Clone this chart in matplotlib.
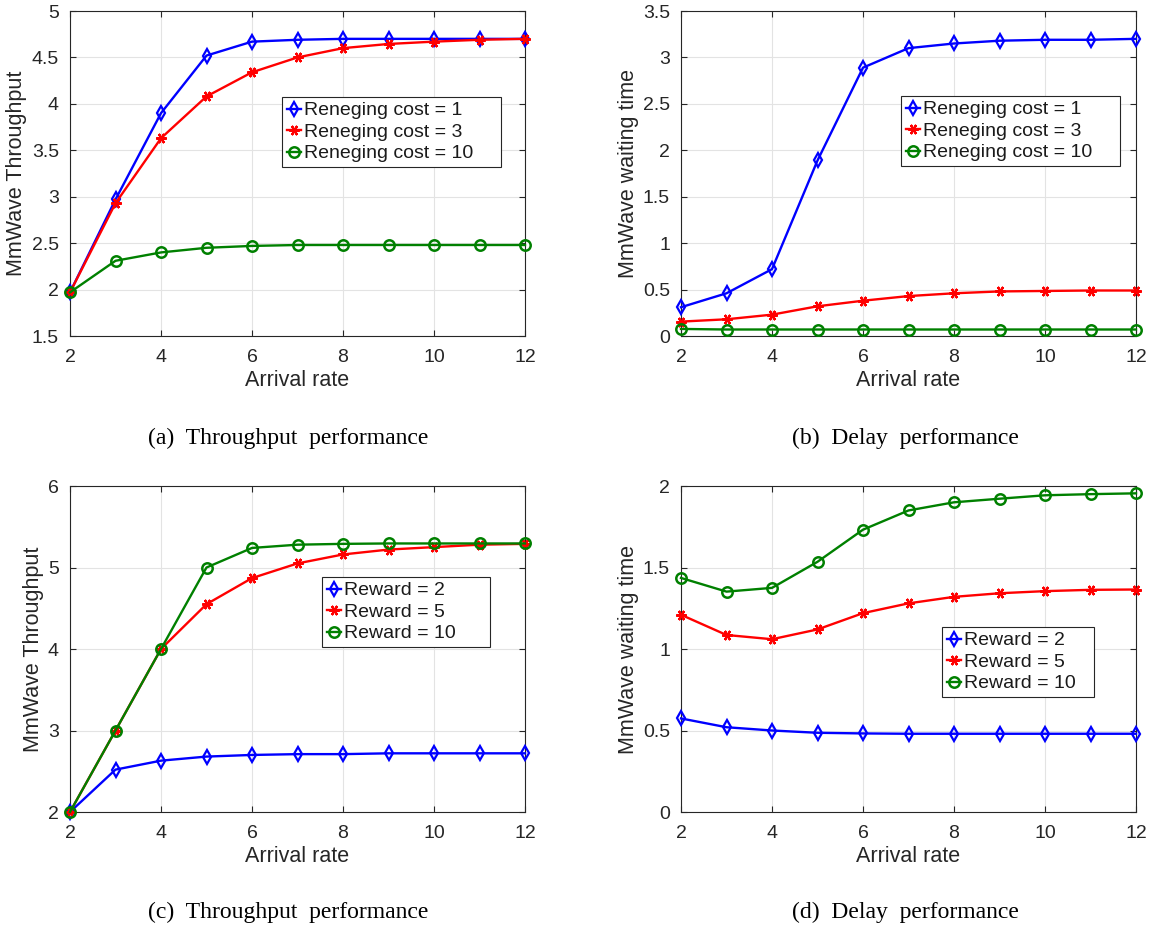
import numpy as np
import matplotlib
matplotlib.use("Agg")
import matplotlib.pyplot as plt

plt.rcParams['font.family'] = ['Liberation Sans', 'DejaVu Sans']

# ---- data ----
arrival = [2, 3, 4, 5, 6, 7, 8, 9, 10, 11, 12]

# (a) throughput vs reneging cost
thr_cost1 = [1.97, 2.97, 3.90, 4.52, 4.67, 4.69, 4.70, 4.70, 4.70, 4.70, 4.70]
thr_cost3 = [1.97, 2.93, 3.63, 4.08, 4.34, 4.50, 4.60, 4.645, 4.67, 4.69, 4.70]
thr_cost10 = [1.97, 2.31, 2.40, 2.45, 2.47, 2.48, 2.48, 2.48, 2.48, 2.48, 2.48]

# (b) delay vs reneging cost
dly_cost1 = [0.31, 0.46, 0.72, 1.89, 2.89, 3.10, 3.15, 3.18, 3.19, 3.19, 3.20]
dly_cost3 = [0.155, 0.18, 0.23, 0.32, 0.38, 0.43, 0.46, 0.48, 0.485, 0.49, 0.49]
dly_cost10 = [0.076, 0.07, 0.07, 0.07, 0.07, 0.07, 0.07, 0.07, 0.07, 0.07, 0.07]

# (c) throughput vs reward
thr_rew2 = [2.0, 2.52, 2.63, 2.68, 2.70, 2.71, 2.71, 2.72, 2.72, 2.72, 2.72]
thr_rew5 = [2.0, 3.0, 4.0, 4.55, 4.87, 5.05, 5.16, 5.22, 5.25, 5.28, 5.29]
thr_rew10 = [2.0, 3.0, 4.0, 5.0, 5.24, 5.28, 5.29, 5.295, 5.295, 5.295, 5.295]

# (d) delay vs reward
dly_rew2 = [0.574, 0.52, 0.50, 0.486, 0.482, 0.48, 0.48, 0.48, 0.48, 0.48, 0.48]
dly_rew5 = [1.21, 1.086, 1.06, 1.12, 1.22, 1.28, 1.32, 1.342, 1.355, 1.363, 1.365]
dly_rew10 = [1.436, 1.352, 1.375, 1.535, 1.732, 1.85, 1.90, 1.922, 1.943, 1.95, 1.955]

cost_labels = ["Reneging cost = 1", "Reneging cost = 3", "Reneging cost = 10"]
reward_labels = ["Reward = 2", "Reward = 5", "Reward = 10"]
captions = ["(a)  Throughput  performance", "(b)  Delay  performance",
            "(c)  Throughput  performance", "(d)  Delay  performance"]

BLUE, RED, GREEN = "#0000ff", "#ff0000", "#008000"
INK = "#262626"
W, H = 1149, 930
TICK_FS = 14
LABEL_FS = 15.5
LEG_FS = 14


def px_axes(fig, x0, y0, x1, y1):
    # pixel box (top-left origin) -> figure fraction
    return fig.add_axes([x0 / W, 1 - y1 / H, (x1 - x0) / W, (y1 - y0) / H])


def draw_panel(fig, ax, series, labels, ylim, yticks, ylabel, leg_box):
    styles = [dict(color=BLUE, marker="d", ms=7.6, mfc="none", mew=1.6),
              dict(color=RED, marker=(6, 2, 90), ms=7.5, mfc=RED, mew=1.6),
              dict(color=GREEN, marker="o", ms=7.5, mfc="none", mew=1.8)]
    for ys, lab, st in zip(series, labels, styles):
        ax.plot(arrival, ys, lw=1.7, label=lab, clip_on=False, zorder=3, **st)
    ax.set_xlim(2, 12)
    ax.set_ylim(*ylim)
    ax.set_xticks([2, 4, 6, 8, 10, 12])
    ax.set_yticks(yticks)
    ax.set_yticklabels([f"{t:g}" for t in yticks])
    ax.grid(True, color="#e3e3e3", lw=0.8)
    ax.set_axisbelow(True)
    ax.tick_params(direction="in", top=True, right=True, labelsize=TICK_FS,
                   length=4, width=0.8, colors=INK)
    ax.tick_params(axis="x", pad=9)
    ax.tick_params(axis="y", pad=8)
    for s in ax.spines.values():
        s.set_color(INK)
        s.set_linewidth(0.8)
    ax.set_xlabel("Arrival rate", fontsize=LABEL_FS, color=INK, labelpad=3)
    ax.set_ylabel(ylabel, fontsize=LABEL_FS, color=INK, labelpad=3)

    # legend box given in pixels: left, top, right, bottom
    lx0, ly0, lx1, ly1 = leg_box
    leg = ax.legend(loc="upper left", mode="expand",
                    bbox_to_anchor=(lx0 / W, 1 - ly1 / H, (lx1 - lx0) / W, (ly1 - ly0) / H),
                    bbox_transform=fig.transFigure, fontsize=LEG_FS, frameon=True,
                    fancybox=False, edgecolor=INK, framealpha=1,
                    handlelength=0.75, handletextpad=0.15, borderpad=0.25,
                    labelspacing=0.2, borderaxespad=0)
    leg.get_frame().set_linewidth(0.8)
    for t in leg.get_texts():
        t.set_color("#1a1a1a")


fig = plt.figure(figsize=(W / 100, H / 100), dpi=100)

ax_a = px_axes(fig, 70, 11, 525, 336)
ax_b = px_axes(fig, 681, 11, 1136, 336)
ax_c = px_axes(fig, 70, 486, 525, 812)
ax_d = px_axes(fig, 681, 486, 1136, 812)

draw_panel(fig, ax_a, [thr_cost1, thr_cost3, thr_cost10], cost_labels, (1.5, 5),
           [1.5, 2, 2.5, 3, 3.5, 4, 4.5, 5], "MmWave Throughput", (282, 97, 501, 171))
draw_panel(fig, ax_b, [dly_cost1, dly_cost3, dly_cost10], cost_labels, (0, 3.5),
           [0, 0.5, 1, 1.5, 2, 2.5, 3, 3.5], "MmWave waiting time", (901, 96, 1120, 170))
draw_panel(fig, ax_c, [thr_rew2, thr_rew5, thr_rew10], reward_labels, (2, 6),
           [2, 3, 4, 5, 6], "MmWave Throughput", (322, 577, 490, 652))
draw_panel(fig, ax_d, [dly_rew2, dly_rew5, dly_rew10], reward_labels, (0, 2),
           [0, 0.5, 1, 1.5, 2], "MmWave waiting time", (942, 627, 1094, 702))

cap_pos = [(288, 438), (905, 438), (288, 912), (905, 912)]
for (cx, cy), cap in zip(cap_pos, captions):
    fig.text(cx / W, 1 - cy / H, cap, ha="center", va="center",
             fontsize=17, family=["Liberation Serif", "DejaVu Serif"])

fig.savefig("out.png", dpi=100, facecolor="white")
